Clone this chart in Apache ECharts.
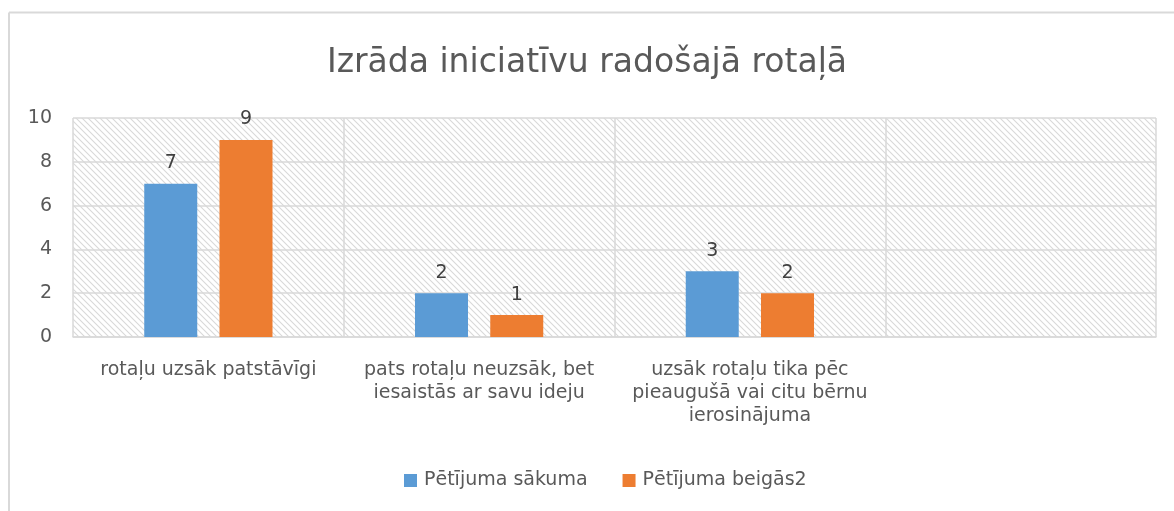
<!DOCTYPE html>
<html>
<head>
<meta charset="utf-8">
<script src="https://cdn.jsdelivr.net/npm/echarts@6/dist/echarts.min.js"></script>
<style>
html,body{margin:0;padding:0;background:#fff;overflow:hidden;}
#chart{width:1174px;height:511px;}
</style>
</head>
<body>
<div id="chart"></div>
<script>
const titleText = 'Izrāda iniciatīvu radošajā rotaļā';
const categories = [
  'rotaļu uzsāk patstāvīgi',
  'pats rotaļu neuzsāk, bet\niesaistās ar savu ideju',
  'uzsāk rotaļu tika pēc\npieaugušā vai citu bērnu\nierosinājuma',
  ''
];
const seriesNames = ['Pētījuma sākuma', 'Pētījuma beigās2'];
const seriesStart = [7, 2, 3, null];
const seriesEnd = [9, 1, 2, null];
const yTicks = { min: 0, max: 10, interval: 2 };

// hatch pattern canvas
const pc = document.createElement('canvas');
pc.width = 6; pc.height = 6;
const ctx = pc.getContext('2d');
ctx.fillStyle = '#ffffff';
ctx.fillRect(0, 0, 6, 6);
ctx.strokeStyle = '#d9d9d9';
ctx.lineWidth = 1.1;
ctx.beginPath();
ctx.moveTo(-1, -1); ctx.lineTo(7, 7);
ctx.moveTo(-4, 2); ctx.lineTo(4, 10);
ctx.moveTo(2, -4); ctx.lineTo(10, 4);
ctx.stroke();

const font = '"DejaVu Sans", sans-serif';
const chart = echarts.init(document.getElementById('chart'));
chart.setOption({
  animation: false,
  backgroundColor: '#ffffff',
  textStyle: { fontFamily: font },
  title: {
    text: titleText,
    left: 'center',
    top: 42,
    textStyle: { fontFamily: font, fontSize: 33, fontWeight: 'normal', color: '#595959' }
  },
  graphic: [
    {
      type: 'line',
      shape: { x1: 9, y1: 12.5, x2: 9, y2: 511 },
      style: { stroke: '#d9d9d9', lineWidth: 2 },
      silent: true, z: -1
    },
    {
      type: 'line',
      shape: { x1: 9, y1: 12.5, x2: 1174, y2: 12.5 },
      style: { stroke: '#d9d9d9', lineWidth: 2 },
      silent: true, z: -1
    }
  ],
  legend: {
    bottom: 16,
    left: 399,
    itemWidth: 13,
    itemHeight: 13,
    itemGap: 35,
    icon: 'rect',
    textStyle: { fontFamily: font, fontSize: 19, color: '#595959', padding: [0, 0, 0, 2] },
    data: seriesNames
  },
  grid: {
    left: 73, right: 18, top: 118, bottom: 174,
    show: true,
    borderWidth: 0,
    backgroundColor: { image: pc, repeat: 'repeat' }
  },
  xAxis: {
    type: 'category',
    data: categories,
    axisLine: { show: true, lineStyle: { color: '#d9d9d9', width: 1.5 } },
    axisTick: { show: false },
    splitLine: { show: true, lineStyle: { color: '#d9d9d9', width: 1.5 } },
    axisLabel: {
      interval: 0,
      margin: 22,
      fontFamily: font,
      fontSize: 19,
      color: '#595959',
      lineHeight: 23
    }
  },
  yAxis: {
    type: 'value',
    min: yTicks.min, max: yTicks.max, interval: yTicks.interval,
    axisLine: { show: false },
    axisTick: { show: false },
    splitLine: { show: true, lineStyle: { color: '#d9d9d9', width: 1.5 } },
    axisLabel: { fontFamily: font, fontSize: 19, color: '#595959', margin: 21 }
  },
  series: [
    {
      name: seriesNames[0], type: 'bar', data: seriesStart,
      barWidth: 53, barGap: '42%',
      itemStyle: { color: '#5b9bd5' },
      label: { show: true, position: 'top', distance: 11, fontFamily: font, fontSize: 19, color: '#404040' }
    },
    {
      name: seriesNames[1], type: 'bar', data: seriesEnd,
      barWidth: 53, barGap: '42%',
      itemStyle: { color: '#ed7d31' },
      label: { show: true, position: 'top', distance: 11, fontFamily: font, fontSize: 19, color: '#404040' }
    }
  ]
});
</script>
</body>
</html>
